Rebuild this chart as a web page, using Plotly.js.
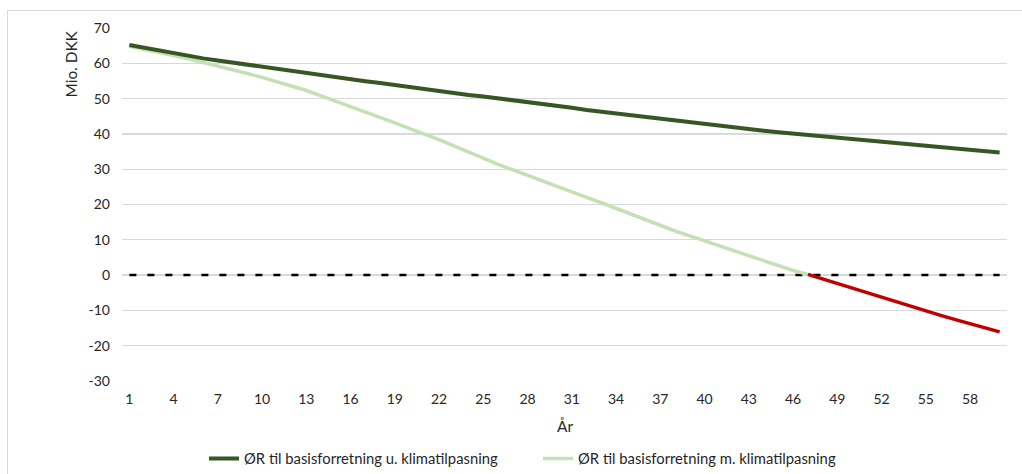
<!DOCTYPE html>
<html>
<head>
<meta charset="utf-8">
<script src="https://cdn.plot.ly/plotly-3.0.1.min.js"></script>
<style>
  html, body { margin: 0; padding: 0; background: #fff; }
  #chart { position: absolute; left: 0; top: 0; width: 1022px; height: 474px; }
  #frame { position: absolute; left: 7px; top: 10px; width: 1015px; height: 464px;
           border-top: 1px solid #d9d9d9; border-left: 1px solid #d9d9d9; pointer-events: none; }
</style>
</head>
<body>
<div id="chart"></div>
<div id="frame"></div>
<script>
const years = [1,2,3,4,5,6,7,8,9,10,11,12,13,14,15,16,17,18,19,20,21,22,23,24,25,26,27,28,29,30,
               31,32,33,34,35,36,37,38,39,40,41,42,43,44,45,46,47,48,49,50,51,52,53,54,55,56,57,58,59,60];

const withoutClimate = [65.2,64.4,63.7,63.0,62.2,61.4,60.8,60.2,59.5,58.9,
                        58.3,57.7,57.1,56.5,56.0,55.4,54.9,54.4,53.8,53.2,
                        52.6,52.0,51.4,51.0,50.6,50.1,49.6,49.0,48.5,48.0,
                        47.4,46.8,46.3,45.9,45.3,44.7,44.3,43.8,43.2,42.7,
                        42.3,41.9,41.4,40.9,40.5,40.1,39.7,39.3,38.9,38.5,
                        38.1,37.7,37.3,36.9,36.6,36.3,35.9,35.5,35.1,34.7];

const withClimateYears = [1,2,3,4,5,6,7,8,9,10,11,12,13,14,15,16,17,18,19,20,21,22,23,24,
                          25,26,27,28,29,30,31,32,33,34,35,36,37,38,39,40,41,42,43,44,45,46,47];
const withClimate = [64.8,64.0,63.1,62.2,61.3,60.3,59.3,58.2,57.1,56.0,
                     54.8,53.6,52.3,50.8,49.3,47.8,46.3,44.7,43.1,41.5,
                     40.0,38.4,36.6,34.8,33.1,31.4,29.8,28.2,26.7,25.1,
                     23.5,22.0,20.5,18.9,17.2,15.5,13.9,12.5,11.1,9.7,
                     8.3,6.9,5.6,4.2,2.7,1.3,0.2];

const negativeYears = [47,48,49,50,51,52,53,54,55,56,57,58,59,60];
const negativeValues = [0.2,-1.1,-2.4,-3.7,-5.0,-6.4,-7.6,-8.9,-10.3,-11.4,-12.6,-13.7,-14.8,-16.1];

const zeroLine = [0,0,0,0,0,0,0,0,0,0,0,0,0,0,0,0,0,0,0,0,0,0,0,0,0,0,0,0,0,0,
                  0,0,0,0,0,0,0,0,0,0,0,0,0,0,0,0,0,0,0,0,0,0,0,0,0,0,0,0,0,0];

const xTickVals = [1,4,7,10,13,16,19,22,25,28,31,34,37,40,43,46,49,52,55,58];
const xTickText = ['1','4','7','10','13','16','19','22','25','28','31','34','37','40','43','46','49','52','55','58'];
const yTickVals = [-30,-20,-10,0,10,20,30,40,50,60,70];
const yTickText = ['-30','-20','-10','0','10','20','30','40','50','60','70'];

const seriesNames = ['ØR til basisforretning u. klimatilpasning', 'ØR til basisforretning m. klimatilpasning'];

const FONT = 'Lato, "Noto Sans", sans-serif';
const TXT = '#262626';

const traces = [
  { x: years, y: zeroLine, mode: 'lines', showlegend: false, hoverinfo: 'skip',
    line: { color: '#000000', width: 2.5, dash: '7px,11px' } },
  { x: withClimateYears, y: withClimate, mode: 'lines', name: seriesNames[1], legendrank: 2,
    line: { color: '#C5E0B4', width: 3.5 } },
  { x: negativeYears, y: negativeValues, mode: 'lines', showlegend: false,
    line: { color: '#C00000', width: 3.5 } },
  { x: years, y: withoutClimate, mode: 'lines', name: seriesNames[0], legendrank: 1,
    line: { color: '#375623', width: 4 } }
];

const layout = {
  width: 1022, height: 474,
  margin: { l: 122, r: 15, t: 28, b: 93, autoexpand: false },
  paper_bgcolor: '#ffffff', plot_bgcolor: '#ffffff',
  font: { family: FONT, size: 14, color: TXT },
  showlegend: true,
  legend: { orientation: 'h', xref: 'container', yref: 'container',
            x: 204 / 1022, xanchor: 'left', y: (474 - 459) / 474, yanchor: 'middle',
            entrywidth: 289,
            font: { family: FONT, size: 14.8, color: TXT }, traceorder: 'normal' },
  xaxis: {
    range: [0.5, 60.5], tickmode: 'array', tickvals: xTickVals, ticktext: xTickText,
    showgrid: false, zeroline: false, showline: false, ticks: '',
    ticklabelstandoff: 8,
    tickfont: { family: FONT, size: 14, color: TXT }
  },
  yaxis: {
    range: [-30, 70], tickmode: 'array', tickvals: yTickVals, ticktext: yTickText,
    showgrid: true, gridcolor: '#d9d9d9', gridwidth: 1.3, zeroline: false, showline: false, ticks: '',
    ticklabelstandoff: 11,
    tickfont: { family: FONT, size: 14, color: TXT }
  },
  annotations: [
    { text: 'Mio. DKK', xref: 'paper', yref: 'paper', x: -0.0575, y: 0.897, textangle: -90,
      showarrow: false, xanchor: 'center', yanchor: 'middle', font: { family: FONT, size: 15.4, color: TXT } },
    { text: 'År', xref: 'paper', yref: 'paper', x: 0.5, y: -0.127,
      showarrow: false, xanchor: 'center', yanchor: 'middle', font: { family: FONT, size: 15.4, color: TXT } }
  ]
};

Plotly.newPlot('chart', traces, layout, { displayModeBar: false, staticPlot: true });
</script>
</body>
</html>
